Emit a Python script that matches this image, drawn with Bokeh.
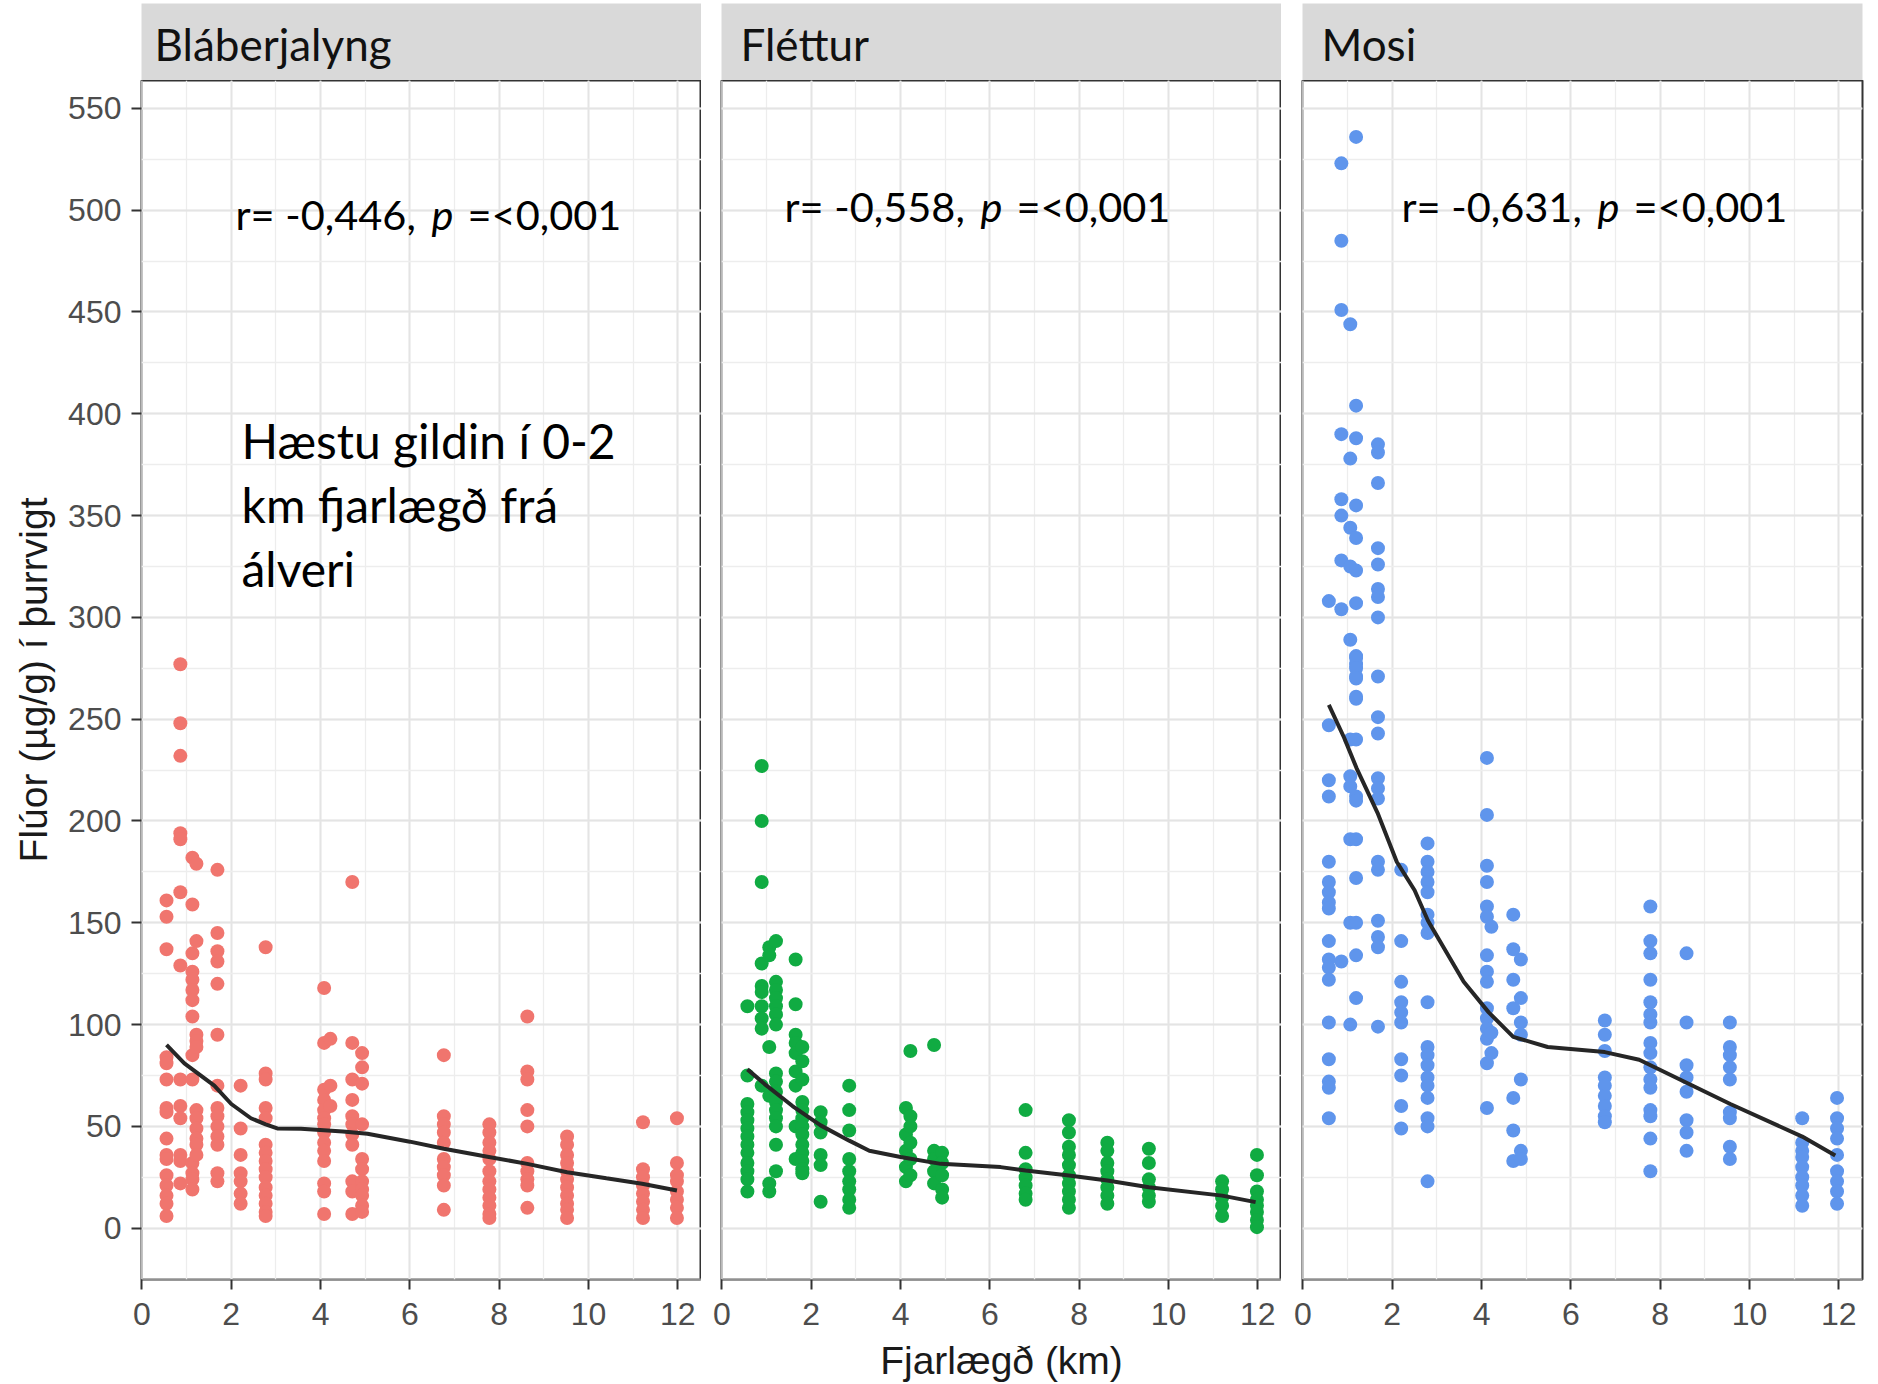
from bokeh.plotting import figure
from bokeh.models import Label, SingleIntervalTicker, Range1d, ColumnDataSource
from bokeh.layouts import row, column
from bokeh.embed import file_html
from bokeh.resources import INLINE

# ---------------- data ----------------
panel_titles = ["Bláberjalyng", "Fléttur", "Mosi"]
r_texts = ["r= -0,446,", "r= -0,558,", "r= -0,631,"]
p_letter = "p"
p_rest = "=<0,001"
note_lines = ["Hæstu gildin í 0-2", "km fjarlægð frá", "álveri"]
x_title = "Fjarlægð (km)"
y_title = "Flúor (µg/g) í þurrvigt"

# Bláberjalyng
blab_sites = [0.55, 0.86, 1.13, 1.22, 1.69, 2.21, 2.77, 4.08, 4.22, 4.71, 4.93,
              6.76, 7.78, 8.63, 9.52, 11.22, 11.98]
blab_vals = [
    [161, 153, 137, 84, 81, 73, 59, 57, 44, 36, 34, 26, 21, 16, 12, 6],
    [277, 248, 232, 194, 191, 165, 129, 73, 60, 54, 36, 33, 22],
    [182, 159, 135, 126, 122, 117, 112, 104, 85, 73, 32, 27, 24, 19],
    [179, 141, 95, 92, 89, 58, 54, 49, 44, 41, 36],
    [176, 145, 136, 131, 120, 95, 70, 59, 55, 50, 45, 41, 27, 23],
    [70, 49, 36, 27, 23, 17, 12],
    [138, 76, 73, 59, 54, 41, 37, 33, 29, 25, 20, 16, 12, 8, 6],
    [118, 91, 68, 63, 58, 54, 51, 47, 42, 38, 33, 22, 18, 7],
    [93, 70, 60],
    [170, 91, 73, 63, 55, 51, 46, 41, 23, 18, 7],
    [86, 79, 71, 51, 34, 29, 23, 19, 16, 11, 8],
    [85, 55, 51, 47, 42, 34, 30, 26, 21, 9],
    [51, 47, 42, 38, 34, 28, 23, 19, 15, 11, 7, 5],
    [104, 77, 73, 58, 50, 32, 28, 24, 21, 10],
    [45, 41, 36, 32, 28, 24, 20, 16, 12, 9, 5],
    [52, 29, 25, 21, 17, 13, 9, 5],
    [54, 32, 26, 23, 18, 14, 10, 5],
]
blab_line_x = [0.55, 0.95, 1.62, 2.0, 2.44, 2.77, 3.03, 3.56, 4.5, 5.05, 6.0,
               6.76, 7.77, 8.63, 9.52, 10.4, 11.2, 11.98]
blab_line_y = [90, 81, 70, 61, 54, 51, 49, 48.8, 47.5, 46.4, 42.5, 39, 35,
               31.6, 27.5, 24.5, 21.8, 18.5]

# Fléttur
flet_sites = [0.57, 0.89, 1.06, 1.21, 1.65, 1.80, 2.21, 2.85, 4.12, 4.22, 4.75,
              4.93, 6.8, 7.77, 8.63, 9.56, 11.2, 11.98]
flet_vals = [
    [109, 75, 61, 57, 53, 49, 45, 41, 37, 32, 28, 24, 18],
    [227, 200, 170, 130, 119, 116, 109, 103, 98, 70],
    [138, 134, 89, 65, 22, 18],
    [141, 121, 117, 113, 109, 105, 100, 76, 72, 67, 62, 58, 54, 50, 41, 28],
    [132, 110, 95, 91, 86, 77, 70, 50, 34],
    [89, 82, 73, 62, 58, 54, 50, 46, 41, 37, 33, 29, 27],
    [57, 52, 47, 36, 31, 13],
    [70, 58, 48, 34, 28, 23, 19, 14, 10],
    [59, 46, 38, 30, 23],
    [87, 55, 50, 42, 34, 26],
    [90, 38, 34, 28, 22],
    [37, 32, 26, 19, 15],
    [58, 37, 29, 25, 21, 17, 14],
    [53, 47, 40, 36, 31, 26, 22, 18, 14, 10],
    [42, 38, 32, 28, 24, 20, 16, 12],
    [39, 32, 24, 20, 16, 13],
    [23, 19, 15, 11, 6],
    [36, 26, 18, 14, 11, 8, 4, 0.5],
]
flet_line_x = [0.57, 1.0, 1.58, 2.21, 2.85, 3.3, 4.0, 4.9, 6.24, 6.8, 7.77,
               8.63, 9.56, 11.2, 11.95]
flet_line_y = [78, 70, 60, 50.5, 43, 38, 35, 31.6, 30, 28.3, 25.9, 23.4, 20.1,
               16, 12.8]

# Mosi
mosi_sites = [0.58, 0.86, 1.06, 1.19, 1.68, 2.2, 2.79, 4.12, 4.22, 4.71, 4.88,
              6.76, 7.78, 8.59, 9.56, 11.18, 11.96]
mosi_vals = [
    [308, 247, 220, 212, 180, 170, 165, 160, 157, 141, 132, 128, 122, 101, 83, 72, 69, 54],
    [523, 485, 451, 390, 358, 350, 328, 304, 131],
    [444, 378, 344, 325, 289, 240, 222, 217, 191, 150, 100],
    [536, 404, 388, 355, 339, 323, 307, 281, 277, 271, 261, 280, 275, 270, 260,
     240, 212, 210, 191, 172, 150, 134, 113],
    [385, 381, 366, 334, 326, 314, 310, 300, 271, 251, 243, 221, 216, 211, 180,
     176, 151, 143, 138, 99],
    [176, 141, 121, 111, 106, 101, 83, 75, 60, 49],
    [189, 180, 175, 170, 165, 154, 150, 145, 111, 89, 85, 80, 74, 70, 64, 54, 50, 23],
    [231, 203, 178, 170, 158, 153, 134, 126, 121, 108, 103, 98, 93, 81, 59],
    [148, 96, 86],
    [154, 137, 122, 108, 64, 48, 33],
    [132, 113, 101, 95, 73, 38, 34],
    [102, 95, 87, 74, 70, 65, 60, 55, 52],
    [158, 141, 135, 122, 111, 105, 101, 91, 86, 79, 73, 69, 58, 55, 44, 28],
    [135, 101, 80, 74, 67, 53, 47, 38],
    [101, 89, 85, 79, 73, 57, 54, 40, 34],
    [54, 42, 38, 35, 30, 25, 21, 16, 11],
    [64, 54, 49, 44, 36, 28, 23, 18, 12],
]
mosi_line_x = [0.58, 0.92, 1.2, 1.67, 2.1, 2.5, 2.8, 3.6, 4.16, 4.71, 5.48,
               6.76, 7.53, 8.59, 9.57, 11.18, 11.92]
mosi_line_y = [257, 241, 226, 204, 180, 166, 151, 121, 106, 94, 89, 86.5, 82.7,
               71.4, 61, 45, 35.7]

colors = ["#F0756E", "#10AB42", "#5F95EC"]

# ---------------- layout constants ----------------
FRAME_W = 560
FRAME_H = 1199
STRIP_H = 77
BOTTOM = 105
TICK_FONT = "Liberation Sans"
ANN_FONT = "Lato"

panels = [
    (blab_sites, blab_vals, blab_line_x, blab_line_y, 141, 0),
    (flet_sites, flet_vals, flet_line_x, flet_line_y, 20, 0),
    (mosi_sites, mosi_vals, mosi_line_x, mosi_line_y, 21, 16),
]
r_pos = [(94, 1066), (63, 1074), (99, 1074)]
strip_x = [13, 19, 19]

cols = []
for i, (sites, vals, lx, ly, left, right) in enumerate(panels):
    # strip
    s = figure(frame_width=FRAME_W, frame_height=STRIP_H,
               x_range=Range1d(0, 1), y_range=Range1d(0, 1),
               min_border_left=left, min_border_right=right,
               min_border_top=3, min_border_bottom=0,
               output_backend="svg", toolbar_location=None)
    s.xaxis.visible = False
    s.yaxis.visible = False
    s.grid.visible = False
    s.outline_line_color = None
    s.background_fill_color = "#D9D9D9"
    s.add_layout(Label(x=strip_x[i], y=37, x_units="screen", y_units="screen",
                       text=panel_titles[i], text_font=ANN_FONT,
                       text_font_size="44px", text_baseline="middle",
                       text_color="#111111"))

    # panel
    p = figure(frame_width=FRAME_W, frame_height=FRAME_H,
               x_range=Range1d(-0.01, 12.53), y_range=Range1d(-25.2, 563.7),
               min_border_left=left, min_border_right=right,
               min_border_top=0, min_border_bottom=BOTTOM,
               output_backend="svg", toolbar_location=None)
    p.background_fill_color = "white"
    p.outline_line_color = "#333333"
    p.outline_line_width = 2

    xt = SingleIntervalTicker(interval=2, num_minor_ticks=2)
    yt = SingleIntervalTicker(interval=50, num_minor_ticks=2)
    p.xaxis.ticker = xt
    p.xgrid.ticker = xt
    p.yaxis.ticker = yt
    p.ygrid.ticker = yt
    for g in (p.xgrid, p.ygrid):
        g.grid_line_color = "#E4E4E4"
        g.grid_line_width = 2
        g.minor_grid_line_color = "#EDEDED"
        g.minor_grid_line_width = 1.3

    for ax in (p.xaxis, p.yaxis):
        ax.axis_line_color = None
        ax.major_tick_line_color = "#333333"
        ax.major_tick_line_width = 2
        ax.major_tick_out = 10
        ax.major_tick_in = 0
        ax.minor_tick_line_color = None
        ax.major_label_text_font = TICK_FONT
        ax.major_label_text_font_size = "32px"
        ax.major_label_text_color = "#4D4D4D"
        ax.major_label_standoff = 10
        ax.axis_label_text_font = TICK_FONT
        ax.axis_label_text_font_size = "39px"
        ax.axis_label_text_font_style = "normal"
        ax.axis_label_text_color = "#1A1A1A"

    p.xaxis.major_label_standoff = 13
    p.xaxis.axis_label_standoff = 11
    # same label box on every panel keeps the three figures equal in height
    p.xaxis.axis_label = x_title if i == 1 else " "

    if i == 0:
        p.yaxis.axis_label = y_title
        p.yaxis.axis_label_standoff = 10
    else:
        p.yaxis.visible = False

    xs, ys = [], []
    for sx, vv in zip(sites, vals):
        for v in vv:
            xs.append(sx)
            ys.append(v)
    src = ColumnDataSource(dict(x=xs, y=ys))
    p.scatter("x", "y", source=src, size=14, fill_color=colors[i],
              line_color=None)
    p.line(lx, ly, line_color="#262626", line_width=4)

    rx, ry = r_pos[i]
    common = dict(x_units="screen", y_units="screen", text_font=ANN_FONT,
                  text_font_size="41.5px", text_baseline="middle",
                  text_color="black")
    p.add_layout(Label(x=rx, y=ry, text=r_texts[i], **common))
    p.add_layout(Label(x=rx + 196, y=ry, text=p_letter,
                       text_font_style="italic", **common))
    p.add_layout(Label(x=rx + 232, y=ry, text=p_rest, **common))

    if i == 0:
        for line, yy in zip(note_lines, [839, 775, 711]):
            p.add_layout(Label(x=100, y=yy, x_units="screen", y_units="screen",
                               text=line, text_font=ANN_FONT,
                               text_font_size="48px", text_baseline="middle",
                               text_color="black"))

    cols.append(column(s, p))

layout = row(*cols)
open("out.html", "w").write(file_html(layout, INLINE))
